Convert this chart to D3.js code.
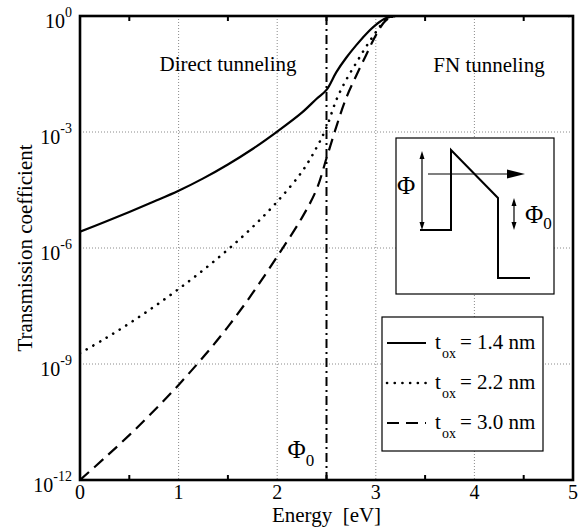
<!DOCTYPE html>
<html>
<head>
<meta charset="utf-8">
<script src="https://cdn.jsdelivr.net/npm/d3@7"></script>
<style>
  body { margin: 0; background: #fff; }
  text { font-family: "Liberation Serif", "Times New Roman", serif; fill: #000; }
</style>
</head>
<body>
<svg id="chart" width="587" height="528"></svg>
<script>
// energy grid [eV]
var energy = [0, 0.25, 0.5, 0.75, 1.0, 1.25, 1.5, 1.75, 2.0, 2.25, 2.4, 2.5, 2.6, 2.7, 2.8, 2.9, 3.0, 3.1, 3.2, 5.0];
// log10 of transmission coefficient for each oxide thickness
var logT14 = [-5.58, -5.33, -5.07, -4.80, -4.52, -4.20, -3.84, -3.44, -2.99, -2.50, -2.14, -1.91, -1.45, -1.08, -0.76, -0.47, -0.23, -0.06, 0, 0];
var logT22 = [-8.72, -8.35, -7.95, -7.52, -7.06, -6.57, -6.04, -5.46, -4.80, -4.03, -3.40, -2.88, -2.17, -1.65, -1.22, -0.80, -0.42, -0.10, 0, 0];
var logT30 = [-12.0, -11.43, -10.84, -10.21, -9.54, -8.82, -8.04, -7.17, -6.22, -5.22, -4.48, -3.68, -2.86, -2.12, -1.55, -1.02, -0.50, -0.12, 0, 0];
var seriesNames = ['1.4 nm', '2.2 nm', '3.0 nm'];

var xTicks = [0, 1, 2, 3, 4, 5];
var xMinorTicks = [0.5, 1.5, 2.5, 3.5, 4.5];
var yExponents = [0, -3, -6, -9, -12];
var yGridExponents = [-3, -6, -9];
var phi0 = 2.5;

(function () {
    'use strict';

    var svg = d3.select('#chart'),
        pl = 80, pr = 573, pt = 16, pb = 480; // plot box edges

    var x = d3.scaleLinear().domain([0, 5]).range([pl, pr]);
    var y = d3.scaleLog().domain([1e-12, 1]).range([pb, pt]);

    var styles = [
        { dash: null, width: 2.2, cap: 'butt' },
        { dash: '0.1 7.6', width: 2.6, cap: 'round' },
        { dash: '12 7', width: 2.2, cap: 'butt' }
    ];

    var series = [logT14, logT22, logT30].map(function (vals, k) {
        return {
            name: seriesNames[k],
            style: styles[k],
            points: vals.map(function (v, i) { return { e: energy[i], t: Math.pow(10, v) }; })
        };
    });

    svg.append('defs').append('clipPath').attr('id', 'plotClip')
        .append('rect')
        .attr('x', pl).attr('y', pt)
        .attr('width', pr - pl).attr('height', pb - pt);

    // grid
    svg.append('g')
        .selectAll('line')
        .data(xTicks.slice(1, -1))
        .enter().append('line')
        .attr('x1', function (d) { return x(d); })
        .attr('x2', function (d) { return x(d); })
        .attr('y1', pt).attr('y2', pb)
        .attr('stroke', '#8a8a8a').attr('stroke-width', 1).attr('stroke-dasharray', '1 2');

    svg.append('g')
        .selectAll('line')
        .data(yGridExponents)
        .enter().append('line')
        .attr('x1', pl).attr('x2', pr)
        .attr('y1', function (d) { return y(Math.pow(10, d)); })
        .attr('y2', function (d) { return y(Math.pow(10, d)); })
        .attr('stroke', '#8a8a8a').attr('stroke-width', 1).attr('stroke-dasharray', '1 2');

    // curves
    var line = d3.line()
        .x(function (d) { return x(d.e); })
        .y(function (d) { return y(d.t); })
        .curve(d3.curveCatmullRom.alpha(0.5));

    svg.append('g')
        .attr('clip-path', 'url(#plotClip)')
        .selectAll('path')
        .data(series)
        .enter().append('path')
        .attr('d', function (d) { return line(d.points); })
        .attr('fill', 'none')
        .attr('stroke', '#000')
        .attr('stroke-width', function (d) { return d.style.width; })
        .attr('stroke-linecap', function (d) { return d.style.cap; })
        .attr('stroke-dasharray', function (d) { return d.style.dash; });

    // Phi0 marker line
    svg.append('line')
        .attr('x1', x(phi0)).attr('x2', x(phi0))
        .attr('y1', pt).attr('y2', pb)
        .attr('stroke', '#000').attr('stroke-width', 2)
        .attr('stroke-dasharray', '9 4 2 4');

    // frame
    svg.append('rect')
        .attr('x', pl).attr('y', pt)
        .attr('width', pr - pl).attr('height', pb - pt)
        .attr('fill', 'none').attr('stroke', '#000').attr('stroke-width', 2.6);

    // minor ticks top and bottom
    [pb, pt].forEach(function (yy) {
        var dir = yy === pb ? -1 : 1;
        svg.append('g')
            .selectAll('line')
            .data(xMinorTicks)
            .enter().append('line')
            .attr('x1', function (d) { return x(d); })
            .attr('x2', function (d) { return x(d); })
            .attr('y1', yy).attr('y2', yy + dir * 5)
            .attr('stroke', '#000').attr('stroke-width', 2);
    });

    // x tick labels
    svg.append('g')
        .selectAll('text')
        .data(xTicks)
        .enter().append('text')
        .attr('x', function (d) { return x(d); })
        .attr('y', pb + 19)
        .attr('text-anchor', 'middle')
        .attr('font-size', 20)
        .text(function (d) { return d; });

    // y tick labels 10^n
    var yLab = svg.append('g')
        .selectAll('text')
        .data(yExponents)
        .enter().append('text')
        .attr('x', pl - 8)
        .attr('y', function (d) { return y(Math.pow(10, d)) + 12; })
        .attr('text-anchor', 'end')
        .attr('font-size', 20);
    yLab.append('tspan').text('10');
    yLab.append('tspan')
        .attr('dy', -11)
        .attr('font-size', 14)
        .text(function (d) { return d === 0 ? '0' : '-' + (-d); });

    // axis titles
    svg.append('text')
        .attr('x', x(2.5)).attr('y', 522)
        .attr('text-anchor', 'middle')
        .attr('font-size', 21)
        .style('white-space', 'pre')
        .text('Energy  [eV]');

    svg.append('text')
        .attr('transform', 'translate(32,' + ((pt + pb) / 2) + ') rotate(-90)')
        .attr('text-anchor', 'middle')
        .attr('font-size', 21)
        .text('Transmission coefficient');

    // region labels
    svg.append('text')
        .attr('x', 228).attr('y', 71)
        .attr('text-anchor', 'middle').attr('font-size', 21)
        .text('Direct tunneling');
    svg.append('text')
        .attr('x', 489).attr('y', 72)
        .attr('text-anchor', 'middle').attr('font-size', 21)
        .text('FN tunneling');

    // Phi0 label
    var phiLab = svg.append('text')
        .attr('x', x(phi0) - 39).attr('y', 458)
        .attr('font-size', 25);
    phiLab.append('tspan').text('\u03A6');
    phiLab.append('tspan').attr('dy', 8).attr('font-size', 17).text('0');

    // inset: barrier sketch
    var inset = svg.append('g').attr('transform', 'translate(396,138)');
    inset.append('rect')
        .attr('width', 158).attr('height', 156)
        .attr('fill', '#fff').attr('stroke', '#000').attr('stroke-width', 1.2);
    inset.append('path')
        .attr('d', 'M24,92 H55 V12 L102,60 V140 H134')
        .attr('fill', 'none').attr('stroke', '#000').attr('stroke-width', 2);
    // horizontal arrow
    inset.append('line')
        .attr('x1', 32).attr('x2', 112).attr('y1', 36).attr('y2', 36)
        .attr('stroke', '#000').attr('stroke-width', 1.2);
    inset.append('path').attr('d', 'M111,31.5 L129,36 L111,40.5 Z').attr('fill', '#000');
    // double arrows
    function dblArrow(xx, y1, y2) {
        inset.append('line')
            .attr('x1', xx).attr('x2', xx).attr('y1', y1 + 4).attr('y2', y2 - 4)
            .attr('stroke', '#000').attr('stroke-width', 1.2);
        inset.append('path').attr('d', 'M' + xx + ',' + y1 + ' l-2.5,8 h5 Z').attr('fill', '#000');
        inset.append('path').attr('d', 'M' + xx + ',' + y2 + ' l-2.5,-8 h5 Z').attr('fill', '#000');
    }
    dblArrow(26, 13, 92);
    dblArrow(118, 60, 92);
    inset.append('text').attr('x', 1).attr('y', 56).attr('font-size', 25).text('\u03A6');
    var phi0In = inset.append('text').attr('x', 129).attr('y', 85).attr('font-size', 25);
    phi0In.append('tspan').text('\u03A6');
    phi0In.append('tspan').attr('dy', 6).attr('font-size', 17).text('0');

    // legend
    var legend = svg.append('g').attr('transform', 'translate(382,317)');
    legend.append('rect')
        .attr('width', 161).attr('height', 134)
        .attr('fill', '#fff').attr('stroke', '#000').attr('stroke-width', 1.2);
    var rows = legend.selectAll('g.row')
        .data(series)
        .enter().append('g')
        .attr('class', 'row')
        .attr('transform', function (d, i) { return 'translate(0,' + (26 + i * 40) + ')'; });
    rows.append('line')
        .attr('x1', 5).attr('x2', 44).attr('y1', 0).attr('y2', 0)
        .attr('stroke', '#000')
        .attr('stroke-width', function (d) { return d.style.width; })
        .attr('stroke-linecap', function (d) { return d.style.cap; })
        .attr('stroke-dasharray', function (d) { return d.style.dash; });
    rows.append('text').attr('x', 53).attr('y', 6).attr('font-size', 21).text('t');
    rows.append('text').attr('x', 60).attr('y', 15).attr('font-size', 14).text('ox');
    rows.append('text').attr('x', 78).attr('y', 6).attr('font-size', 21)
        .text(function (d) { return '= ' + d.name; });
})();
</script>
</body>
</html>
